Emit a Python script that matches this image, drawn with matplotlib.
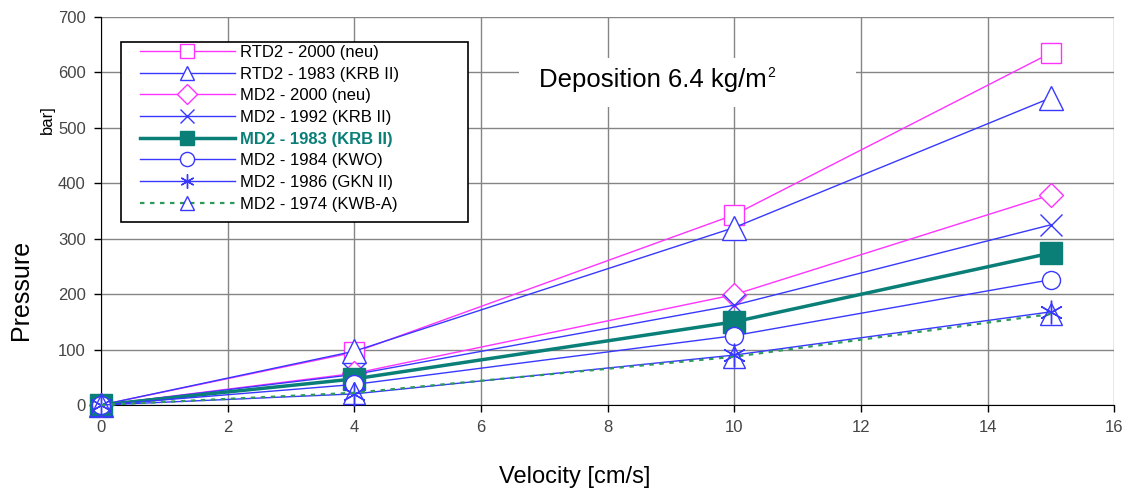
import matplotlib
matplotlib.use("Agg")
import matplotlib.pyplot as plt
from matplotlib.lines import Line2D
from matplotlib.patches import Rectangle

plt.rcParams['font.family'] = ['Liberation Sans', 'DejaVu Sans']

velocity = [0, 4, 10, 15]
series_names = ["RTD2 - 2000 (neu)", "RTD2 - 1983 (KRB II)", "MD2 - 2000 (neu)",
                "MD2 - 1992 (KRB II)", "MD2 - 1983 (KRB II)", "MD2 - 1984 (KWO)",
                "MD2 - 1986 (GKN II)", "MD2 - 1974 (KWB-A)"]
rtd2_2000 = [0, 95, 343, 635]
rtd2_1983 = [0, 97, 320, 554]
md2_2000 = [0, 57, 199, 379]
md2_1992 = [0, 55, 180, 325]
md2_1983 = [0, 47, 150, 274]
md2_1984 = [0, 37, 125, 226]
md2_1986 = [0, 20, 90, 168]
md2_1974 = [0, 22, 87, 164]
x_ticks = [0, 2, 4, 6, 8, 10, 12, 14, 16]
y_ticks = [0, 100, 200, 300, 400, 500, 600, 700]

magenta = '#FF33FF'
blue = '#3838FF'
teal = '#0A7F78'
green = '#2E9A5A'

styles = [
    dict(color=magenta, marker='s', mfc='white', mec=magenta, lw=1.0, ms=15),
    dict(color=blue, marker='^', mfc='white', mec=blue, lw=1.0, ms=17),
    dict(color=magenta, marker='D', mfc='white', mec=magenta, lw=1.0, ms=12),
    dict(color=blue, marker='x', mfc='none', mec=blue, lw=1.0, ms=16, mew=1.0),
    dict(color=teal, marker='s', mfc=teal, mec=teal, lw=2.5, ms=16),
    dict(color=blue, marker='o', mfc='white', mec=blue, lw=1.0, ms=13),
    dict(color=blue, marker=(6, 2, 0), mfc='none', mec=blue, lw=1.0, ms=17, mew=1.0),
    dict(color=green, marker='^', mfc='none', mec=blue, lw=1.6, ms=16, ls=(0, (2, 2.5))),
]
data = [rtd2_2000, rtd2_1983, md2_2000, md2_1992, md2_1983, md2_1984, md2_1986, md2_1974]

fig = plt.figure(figsize=(11.27, 4.9), dpi=100)
ax = fig.add_axes([0.0896, 0.1735, 0.899, 0.792])

for name, ys, st in zip(series_names, data, styles):
    ax.plot(velocity, ys, label=name, zorder=3, clip_on=False, **st)

ax.set_xlim(0, 16)
ax.set_ylim(0, 700)
ax.set_xticks(x_ticks)
ax.set_yticks(y_ticks)
ax.grid(True, color='#858585', lw=1.0, zorder=0)
ax.set_axisbelow(True)
ax.spines['top'].set_visible(False)
ax.spines['right'].set_visible(False)
ax.spines['left'].set_color('black')
ax.spines['bottom'].set_color('black')
ax.tick_params(axis='both', direction='out', length=5, labelsize=12, colors='black',
               labelcolor='#454545', width=1)
ax.tick_params(axis='x', pad=6)
ax.tick_params(axis='y', pad=6)

fig.text(0.51, 0.027, "Velocity [cm/s]", fontsize=17, ha='center', va='center')
fig.text(0.019, 0.408, "Pressure", fontsize=18, rotation=90, ha='center', va='center')
fig.text(0.042, 0.755, "bar]", rotation=90, fontsize=12, ha='center', va='center')

ax.add_patch(Rectangle((6.6, 538), 5.33, 88, facecolor='white', edgecolor='none', zorder=1))
dep = ax.text(6.92, 587, "Deposition 6.4 kg/m", fontsize=18.5, ha='left', va='center', zorder=4)
fig.canvas.draw()
bb = dep.get_window_extent()
xr, yt = ax.transData.inverted().transform((bb.x1, bb.y1))
ax.text(xr + 0.01, yt + 2, "2", fontsize=10, ha='left', va='top', zorder=5)

# legend frame drawn as a box in axes coordinates
ax.add_patch(Rectangle((0.0197, 0.9356 - 0.464), 0.3425, 0.464, transform=ax.transAxes,
                       facecolor='white', edgecolor='black', lw=1.2, zorder=5))

handles = []
for name, st in zip(series_names, styles):
    st2 = dict(st)
    st2['ms'] = min(st['ms'], 12) * 0.85
    handles.append(Line2D([0], [0], label=name, **st2))
leg = ax.legend(handles=handles, loc='upper left', bbox_to_anchor=(0.0385, 0.928),
                fontsize=12, frameon=False, handlelength=5.7, labelspacing=0.4,
                borderpad=0, handletextpad=0.3, borderaxespad=0)
leg.set_zorder(6)
for t in leg.get_texts():
    if t.get_text() == "MD2 - 1983 (KRB II)":
        t.set_color(teal)
        t.set_fontweight('bold')

fig.savefig("out.png", dpi=100)
